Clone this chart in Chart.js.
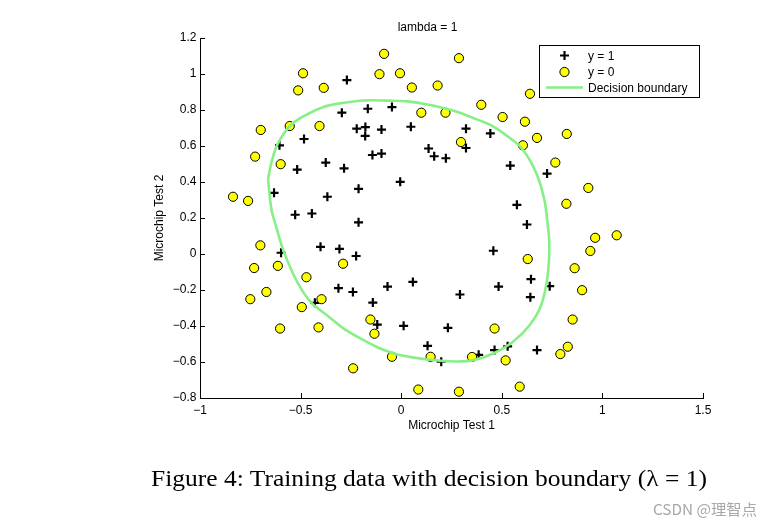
<!DOCTYPE html>
<html>
<head>
<meta charset="utf-8">
<script src="https://cdn.jsdelivr.net/npm/chart.js@4/dist/chart.umd.min.js"></script>
<style>
  html, body { margin: 0; padding: 0; background: #fff; }
  body { width: 763px; height: 524px; position: relative; overflow: hidden; }
  #c { position: absolute; left: 0; top: 0; }
  #caption { position: absolute; left: 151px; top: 466.5px; font-family: "Liberation Serif", serif; font-size: 23px; line-height: 23px; color: #000; white-space: nowrap; transform-origin: 0 0; }
  #wm { position: absolute; left: 653px; top: 499px; font-family: "Noto Sans CJK SC", sans-serif; font-size: 15px; line-height: 20px; color: #a8a8a8; white-space: nowrap; }
</style>
</head>
<body>
<canvas id="c" width="763" height="524"></canvas>
<div id="caption">Figure 4: Training data with decision boundary (λ = 1)</div>
<div id="wm">CSDN @理智点</div>
<script>
// ---- data ----
const posX = [-0.270,-0.295,-0.166,-0.046,-0.221,-0.178,-0.179,-0.098,0.048,-0.483,-0.605,0.136,0.164,0.222,-0.143,-0.098,-0.375,-0.517,-0.284,-0.005,-0.212,-0.632,-0.367,-0.527,-0.444,0.322,0.443,0.322,0.542,0.725,0.575,-0.212,-0.597,-0.401,-0.307,-0.224,-0.312,-0.240,-0.068,0.058,-0.141,-0.429,-0.119,0.012,0.232,0.131,0.199,0.625,0.458,0.645,0.484,0.738,0.642,0.292,0.464,0.529,0.385,0.675];
const posY = [0.966,0.785,0.807,0.816,0.696,0.705,0.656,0.691,0.707,0.639,0.604,0.586,0.543,0.532,0.550,0.558,0.508,0.469,0.476,0.401,0.362,0.340,0.318,0.218,0.225,0.696,0.670,0.589,0.491,0.447,0.273,0.176,0.007,0.040,0.028,-0.011,-0.190,-0.211,-0.181,-0.155,-0.270,-0.271,-0.392,-0.399,-0.410,-0.510,-0.598,0.164,0.018,-0.140,-0.181,-0.179,-0.240,-0.225,-0.534,-0.513,-0.560,-0.534];
const negX = [-0.085,-0.488,-0.108,-0.006,-0.512,-0.385,0.053,0.181,0.100,0.220,-0.698,-0.554,-0.406,-0.726,-0.599,-0.836,-0.761,0.287,0.640,0.398,0.504,0.615,0.675,0.823,0.605,0.297,0.766,0.930,0.821,-0.700,-0.731,-0.613,-0.289,-0.471,-0.670,-0.750,-0.494,-0.396,-0.602,-0.411,-0.153,-0.133,-0.046,0.146,-0.239,0.085,0.964,1.071,0.940,0.629,0.862,0.899,0.852,0.464,0.828,0.791,0.352,0.519,0.589,0.287];
const negY = [1.112,1.004,0.999,1.004,0.909,0.923,0.925,0.936,0.785,0.785,0.689,0.711,0.711,0.541,0.499,0.318,0.295,1.088,0.890,0.829,0.761,0.735,0.645,0.667,0.604,0.622,0.508,0.367,0.279,0.048,-0.078,-0.066,-0.054,-0.129,-0.211,-0.251,-0.295,-0.251,-0.414,-0.408,-0.364,-0.443,-0.571,-0.571,-0.635,-0.753,0.090,0.104,0.017,-0.028,-0.079,-0.201,-0.364,-0.414,-0.515,-0.556,-0.572,-0.591,-0.737,-0.765];
const boundX = [-0.662,-0.645,-0.615,-0.554,-0.483,-0.383,-0.284,-0.184,-0.068,0.031,0.131,0.262,0.355,0.454,0.537,0.603,0.670,0.711,0.725,0.736,0.728,0.695,0.637,0.554,0.454,0.355,0.264,0.131,-0.001,-0.101,-0.184,-0.284,-0.367,-0.449,-0.516,-0.582,-0.623,-0.645,-0.662];
const boundY = [0.416,0.508,0.609,0.711,0.766,0.818,0.840,0.853,0.852,0.848,0.831,0.796,0.757,0.711,0.647,0.582,0.453,0.305,0.194,0.065,-0.120,-0.286,-0.397,-0.489,-0.554,-0.591,-0.597,-0.586,-0.563,-0.526,-0.480,-0.416,-0.342,-0.268,-0.157,0.009,0.157,0.249,0.416];
const xTicks = [-1, -0.5, 0, 0.5, 1, 1.5];
const yTicks = [-0.8, -0.6, -0.4, -0.2, 0, 0.2, 0.4, 0.6, 0.8, 1, 1.2];
const seriesLabels = ['y = 1', 'y = 0', 'Decision boundary'];
const chartTitle = 'lambda = 1';
const xTitle = 'Microchip Test 1';
const yTitle = 'Microchip Test 2';

const zip = (xs, ys) => xs.map((x, i) => ({x, y: ys[i]}));
const fmt = v => { const r = Math.round(v * 10) / 10; return (r < 0 ? '\u2212' : '') + String(Math.abs(r)); };

const FONT = 'Liberation Sans, Arial, sans-serif';
const GREEN = '#86ef86';

const inwardTicks = {
  id: 'inwardTicks',
  afterDraw(chart) {
    const ctx = chart.ctx, a = chart.chartArea;
    const xs = chart.scales.x, ys = chart.scales.y;
    ctx.save();
    ctx.strokeStyle = '#000';
    ctx.lineWidth = 1;
    ctx.beginPath();
    xs.ticks.forEach(t => { const p = Math.round(xs.getPixelForValue(t.value)) + 0.5; ctx.moveTo(p, a.bottom); ctx.lineTo(p, a.bottom - 5); });
    ys.ticks.forEach(t => { const p = Math.round(ys.getPixelForValue(t.value)) + 0.5; ctx.moveTo(a.left, p); ctx.lineTo(a.left + 5, p); });
    ctx.stroke();
    ctx.restore();
  }
};

const boxLegend = {
  id: 'boxLegend',
  afterDraw(chart) {
    const ctx = chart.ctx;
    const ds = chart.data.datasets;
    const bx = 539.5, by = 45.5, bw = 160, bh = 52;
    ctx.save();
    ctx.fillStyle = '#fff';
    ctx.fillRect(bx, by, bw, bh);
    ctx.strokeStyle = '#000';
    ctx.lineWidth = 1;
    ctx.strokeRect(bx, by, bw, bh);
    const rows = [55.5, 72, 87.5];
    ds.forEach((d, i) => {
      const y = rows[i];
      if (d.showLine) {
        ctx.strokeStyle = d.borderColor; ctx.lineWidth = d.borderWidth;
        ctx.beginPath(); ctx.moveTo(546, y); ctx.lineTo(583, y); ctx.stroke();
      } else {
        ctx.fillStyle = d.backgroundColor; ctx.strokeStyle = d.borderColor; ctx.lineWidth = d.borderWidth;
        Chart.helpers.drawPoint(ctx, {pointStyle: d.pointStyle, radius: d.pointRadius, rotation: 0, borderWidth: d.borderWidth}, 564.5, y);
      }
      ctx.fillStyle = '#000';
      ctx.font = '12px ' + FONT;
      ctx.textBaseline = 'middle';
      ctx.textAlign = 'left';
      ctx.fillText(d.label, 588, y + 1);
    });
    ctx.restore();
  }
};

new Chart(document.getElementById('c'), {
  type: 'scatter',
  data: {
    datasets: [
      { label: seriesLabels[0], data: zip(posX, posY), pointStyle: 'cross', pointRadius: 4.5, borderWidth: 2.2, borderColor: '#000', backgroundColor: '#000', order: 3 },
      { label: seriesLabels[1], data: zip(negX, negY), pointStyle: 'circle', pointRadius: 4.6, borderWidth: 1, borderColor: '#000', backgroundColor: '#ffff00', order: 2 },
      { label: seriesLabels[2], data: zip(boundX, boundY), showLine: true, pointRadius: 0, borderWidth: 2.6, borderColor: GREEN, backgroundColor: GREEN, tension: 0.35, fill: false, order: 1 }
    ]
  },
  options: {
    responsive: false,
    animation: false,
    devicePixelRatio: 1,
    layout: { padding: { left: 152, right: 60, top: 14, bottom: 91 } },
    plugins: {
      legend: { display: false },
      tooltip: { enabled: false },
      title: { display: true, text: chartTitle, color: '#000', font: { family: FONT, size: 12, weight: 'normal' }, padding: { top: 6.5, bottom: 3.1 } }
    },
    scales: {
      x: {
        type: 'linear', min: -1, max: 1.5,
        afterBuildTicks: s => { s.ticks = xTicks.map(v => ({value: v})); },
        afterFit: s => { s.height = 35; },
        ticks: { callback: v => fmt(v), color: '#000', font: { family: FONT, size: 12 }, padding: 5, maxRotation: 0, autoSkip: false },
        grid: { drawOnChartArea: false, drawTicks: false },
        border: { display: true, color: '#000', width: 1 },
        title: { display: true, text: xTitle, color: '#000', font: { family: FONT, size: 12 }, padding: 0 }
      },
      y: {
        type: 'linear', min: -0.8, max: 1.2,
        afterBuildTicks: s => { s.ticks = yTicks.map(v => ({value: v})); },
        afterFit: s => { s.width = 48; },
        ticks: { callback: v => fmt(v), color: '#000', font: { family: FONT, size: 12 }, padding: 3.5, autoSkip: false },
        grid: { drawOnChartArea: false, drawTicks: false },
        border: { display: true, color: '#000', width: 1 },
        title: { display: true, text: yTitle, color: '#000', font: { family: FONT, size: 12 }, padding: 0 }
      }
    }
  },
  plugins: [inwardTicks, boxLegend]
});

// fit caption width to the reference span
const cap = document.getElementById('caption');
const w = cap.getBoundingClientRect().width;
cap.style.transform = 'scaleX(' + (556 / w) + ')';
const wm = document.getElementById('wm');
const ww = wm.getBoundingClientRect().width;
wm.style.transform = 'scaleX(' + (104 / ww) + ')';
wm.style.transformOrigin = '0 0';
</script>
</body>
</html>
